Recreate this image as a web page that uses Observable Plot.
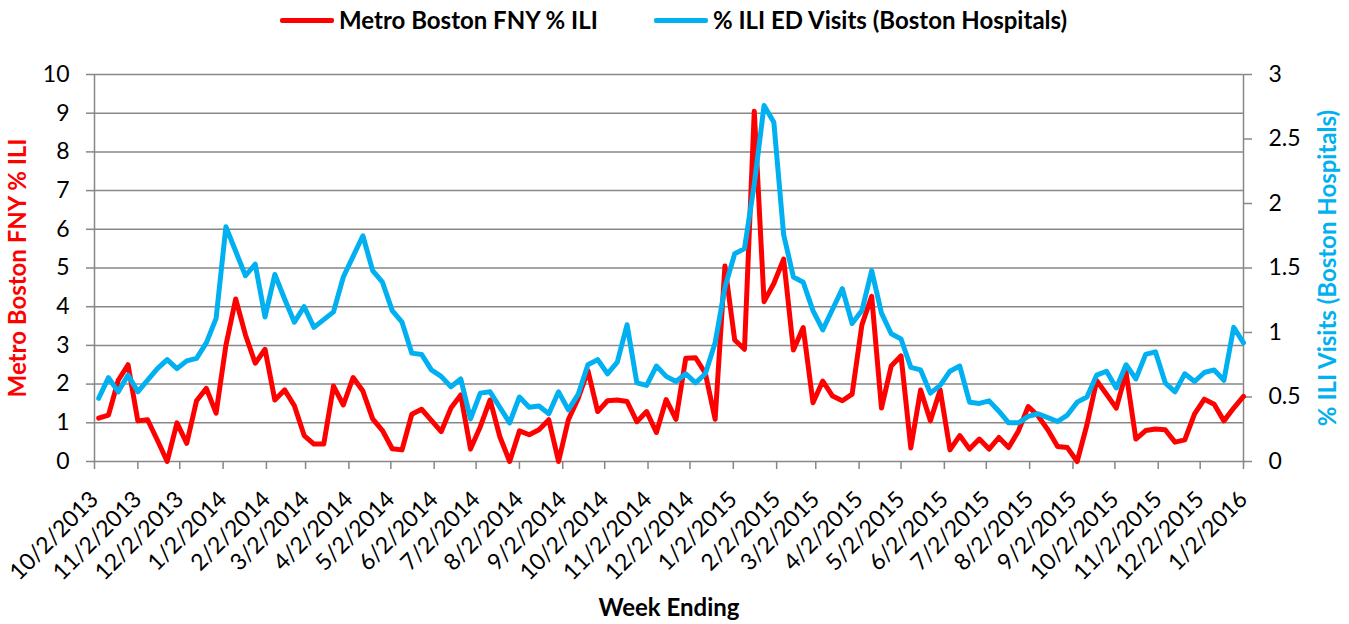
<!DOCTYPE html>
<html>
<head>
<meta charset="utf-8">
<script src="https://cdn.jsdelivr.net/npm/d3@7"></script>
<script src="https://cdn.jsdelivr.net/npm/@observablehq/plot@0.6"></script>
<style>
  body { margin: 0; background: #fff; font-family: Lato, sans-serif; }
  #legend { position: relative; width: 1349px; height: 40px; }
  .sw { position: absolute; top: 18px; height: 5px; width: 54px; border-radius: 2px; }
  .lt { position: absolute; top: 6px; font-weight: bold; font-size: 24px; line-height: 28px; color: #000; white-space: nowrap; }
  #chart svg { display: block; }
</style>
</head>
<body>
<div id="legend"></div>
<div id="chart"></div>
<script>
// ---- data ----
const fnyLabel = "Metro Boston FNY % ILI";
const edLabel = "% ILI ED Visits (Boston Hospitals)";
const axisLeftTitle = "Metro Boston FNY % ILI";
const axisRightTitle = "% ILI Visits (Boston Hospitals)";
const xTitle = "Week Ending";
const firstWeek = "2013-10-05";
const lastWeek = "2016-01-02";

// Metro Boston FNY % ILI (left axis), weekly
const fny = [
  1.12, 1.2, 2.1, 2.5, 1.05, 1.08, 0.55, 0, 1.0, 0.47,
  1.57, 1.89, 1.25, 3.0, 4.2, 3.27, 2.54, 2.9, 1.59, 1.85,
  1.44, 0.67, 0.45, 0.45, 1.95, 1.46, 2.17, 1.82, 1.1, 0.8,
  0.33, 0.3, 1.22, 1.35, 1.06, 0.77, 1.38, 1.72, 0.32, 0.9,
  1.59, 0.64, 0, 0.79, 0.69, 0.82, 1.08, 0, 1.08, 1.63,
  2.35, 1.29, 1.57, 1.59, 1.55, 1.03, 1.29, 0.75, 1.6, 1.09,
  2.67, 2.68, 2.28, 1.09, 5.05, 3.14, 2.9, 9.05, 4.13, 4.6,
  5.23, 2.88, 3.46, 1.52, 2.08, 1.69, 1.57, 1.74, 3.53, 4.27,
  1.38, 2.47, 2.73, 0.35, 1.85, 1.05, 1.85, 0.3, 0.67, 0.32,
  0.58, 0.32, 0.62, 0.36, 0.79, 1.42, 1.18, 0.82, 0.39, 0.36,
  0, 0.95, 2.09, 1.74, 1.38, 2.3, 0.58, 0.8, 0.84, 0.82,
  0.5, 0.56, 1.23, 1.61, 1.48, 1.05, 1.38, 1.68
];

// % ILI ED Visits (Boston Hospitals) (right axis), weekly
const ed = [
  0.49, 0.65, 0.54, 0.67, 0.54, 0.63, 0.72, 0.79, 0.72, 0.78,
  0.80, 0.92, 1.11, 1.82, 1.63, 1.44, 1.53, 1.12, 1.45, 1.26,
  1.08, 1.20, 1.04, 1.10, 1.16, 1.43, 1.59, 1.75, 1.48, 1.39,
  1.17, 1.08, 0.84, 0.83, 0.71, 0.66, 0.58, 0.64, 0.33, 0.53,
  0.54, 0.42, 0.30, 0.50, 0.42, 0.43, 0.37, 0.54, 0.40, 0.52,
  0.75, 0.79, 0.68, 0.77, 1.06, 0.61, 0.59, 0.74, 0.66, 0.62,
  0.68, 0.61, 0.68, 0.92, 1.35, 1.61, 1.65, 2.15, 2.76, 2.63,
  1.76, 1.43, 1.39, 1.17, 1.02, 1.18, 1.34, 1.07, 1.17, 1.48,
  1.15, 0.99, 0.95, 0.73, 0.71, 0.53, 0.59, 0.70, 0.74, 0.46,
  0.45, 0.47, 0.39, 0.30, 0.30, 0.35, 0.37, 0.34, 0.31, 0.36,
  0.46, 0.50, 0.67, 0.70, 0.57, 0.75, 0.64, 0.83, 0.85, 0.61,
  0.54, 0.68, 0.62, 0.69, 0.71, 0.63, 1.04, 0.92
];

const leftTicks = [0, 1, 2, 3, 4, 5, 6, 7, 8, 9, 10];
const rightTicks = [0, 0.5, 1, 1.5, 2, 2.5, 3];
const monthTicks = [
  "2013-10-02", "2013-11-02", "2013-12-02", "2014-01-02", "2014-02-02", "2014-03-02",
  "2014-04-02", "2014-05-02", "2014-06-02", "2014-07-02", "2014-08-02", "2014-09-02",
  "2014-10-02", "2014-11-02", "2014-12-02", "2015-01-02", "2015-02-02", "2015-03-02",
  "2015-04-02", "2015-05-02", "2015-06-02", "2015-07-02", "2015-08-02", "2015-09-02",
  "2015-10-02", "2015-11-02", "2015-12-02", "2016-01-02"
];

// ---- build ----
const RED = "#FF0000", BLUE = "#00B0F0", GRAY = "#878787";
const leftMax = 10, rightMax = 3, k = leftMax / rightMax;

const weeks = d3.utcSaturday.range(new Date(firstWeek), d3.utcDay.offset(new Date(lastWeek), 1));
const rows = weeks.map((date, i) => ({date, fny: fny[i], ed: ed[i]}));
const xTicks = monthTicks.map(s => new Date(s));
const xDomain = [xTicks[0], xTicks[xTicks.length - 1]];
const fmtDate = d => `${d.getUTCMonth() + 1}/${d.getUTCDate()}/${d.getUTCFullYear()}`;

// legend
const legend = document.getElementById("legend");
legend.innerHTML = `
  <div class="sw" style="left:280px;background:${RED}"></div>
  <div class="lt" style="left:339px">${fnyLabel}</div>
  <div class="sw" style="left:654px;background:${BLUE}"></div>
  <div class="lt" style="left:713px">${edLabel}</div>`;

const chart = Plot.plot({
  width: 1349,
  height: 584,
  marginTop: 34,
  marginBottom: 163,
  marginLeft: 94,
  marginRight: 106,
  style: {fontFamily: "Lato, sans-serif", fontSize: "23px", color: "black", background: "white"},
  x: {type: "utc", domain: xDomain},
  y: {domain: [0, leftMax]},
  marks: [
    Plot.gridY(leftTicks, {stroke: GRAY, strokeOpacity: 1, strokeWidth: 1.5}),
    Plot.ruleX(xDomain, {stroke: GRAY, strokeWidth: 1.5}),
    Plot.axisY(leftTicks, {anchor: "left", tickSize: 8, tickPadding: 17, stroke: GRAY, strokeWidth: 1.5, fill: "black", fontSize: 23, label: null}),
    Plot.axisY(rightTicks.map(v => v * k), {anchor: "right", tickSize: 8, tickPadding: 17, stroke: GRAY, strokeWidth: 1.5, fill: "black", fontSize: 23, label: null,
      tickFormat: d => String(+(d / k).toFixed(2))}),
    Plot.axisX(xTicks, {anchor: "bottom", tickSize: 8, tickPadding: 26, tickRotate: -45, textAnchor: "end", lineAnchor: "middle",
      stroke: GRAY, strokeWidth: 1.5, fill: "black", fontSize: 23, label: null, tickFormat: fmtDate}),
    Plot.line(rows, {x: "date", y: "fny", stroke: RED, strokeWidth: 5, strokeLinejoin: "round", strokeLinecap: "round"}),
    Plot.line(rows, {x: "date", y: d => d.ed * k, stroke: BLUE, strokeWidth: 5, strokeLinejoin: "round", strokeLinecap: "round"}),
    Plot.text([axisLeftTitle], {frameAnchor: "left", dx: -76, rotate: -90, textAnchor: "middle", lineAnchor: "middle", fill: RED, fontWeight: "bold", fontSize: 24}),
    Plot.text([axisRightTitle], {frameAnchor: "right", dx: 85, rotate: -90, textAnchor: "middle", lineAnchor: "middle", fill: BLUE, fontWeight: "bold", fontSize: 24}),
    Plot.text([xTitle], {frameAnchor: "bottom", dy: 147, textAnchor: "middle", lineAnchor: "middle", fill: "black", fontWeight: "bold", fontSize: 24})
  ]
});
document.getElementById("chart").appendChild(chart);
</script>
</body>
</html>
